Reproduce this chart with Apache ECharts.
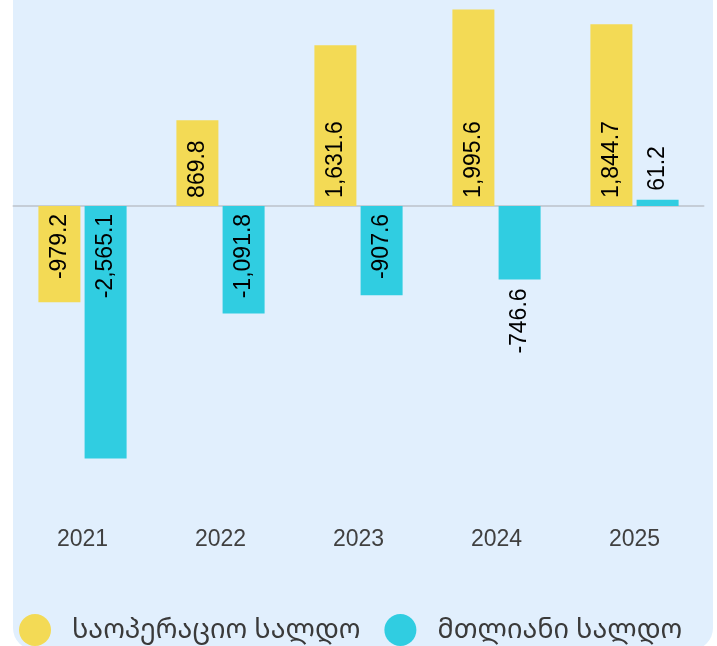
<!DOCTYPE html>
<html><head><meta charset="utf-8">
<script src="https://cdn.jsdelivr.net/npm/echarts@6/dist/echarts.min.js"></script>
<style>html,body{margin:0;padding:0;background:#fff}#c{width:717px;height:646px}</style>
</head><body><div id="c"></div>
<script>
const categories = ['2021','2022','2023','2024','2025'];
const operatingBalance = [-979.2, 869.8, 1631.6, 1995.6, 1844.7];
const totalBalance = [-2565.1, -1091.8, -907.6, -746.6, 61.2];
const seriesNames = ['საოპერაციო სალდო', 'მთლიანი სალდო'];
const outsideLabelIdx = { total: [3, 4] };

function fmt(v){ return v.toLocaleString('en-US',{minimumFractionDigits:1, maximumFractionDigits:1}); }
function mk(vals, outside){
  return vals.map((v,i)=>{
    const out = outside.includes(i);
    let pos;
    if (v >= 0) pos = out ? 'top' : 'insideBottom';
    else pos = out ? 'bottom' : 'insideTop';
    const align = (v >= 0) ? 'left' : 'right';
    return { value: v, label: { position: pos, align: align, distance: out ? 9 : 8 } };
  });
}
const chart = echarts.init(document.getElementById('c'));
const font = 'Liberation Sans, Arial, sans-serif';
chart.setOption({
  animation: false,
  graphic: [{ type: 'rect', z: -10, silent: true,
    shape: { x: 13, y: -40, width: 700, height: 690, r: 22 },
    style: { fill: '#e1effd' } }],
  color: ['#f3da55', '#30cde1'],
  grid: { left: 13.5, width: 690, top: 0, bottom: 126 },
  legend: { left: 14, top: 609, itemWidth: 32, itemHeight: 32, itemGap: 24, icon: 'circle',
    textStyle: { fontSize: 27, color: '#3a3a3a', fontFamily: 'Noto Sans Georgian, DejaVu Sans, Noto Sans, sans-serif', padding: [0,0,6,16] },
    data: seriesNames },
  xAxis: [{ type: 'category', data: categories,
      axisLine: { show: true, onZero: true, lineStyle: { color: '#c5cdd7', width: 2 } },
      axisTick: { show: false }, axisLabel: { show: false } },
    { type: 'category', data: categories, position: 'bottom',
      axisLine: { show: false }, axisTick: { show: false },
      axisLabel: { fontSize: 23, color: '#404040', fontFamily: font, margin: 8 } }],
  yAxis: { type: 'value', min: -3190, max: 2091, show: false, splitLine: { show: false } },
  series: [
    { name: seriesNames[0], type: 'bar', barWidth: 42, barGap: '10%', data: mk(operatingBalance, []),
      label: { show: true, rotate: 90, verticalAlign: 'middle', fontSize: 23, color: '#000', fontFamily: font,
        formatter: p => fmt(p.value) } },
    { name: seriesNames[1], type: 'bar', barWidth: 42, barGap: '10%', data: mk(totalBalance, outsideLabelIdx.total),
      label: { show: true, rotate: 90, verticalAlign: 'middle', fontSize: 23, color: '#000', fontFamily: font,
        formatter: p => fmt(p.value) } }
  ]
});
</script></body></html>
